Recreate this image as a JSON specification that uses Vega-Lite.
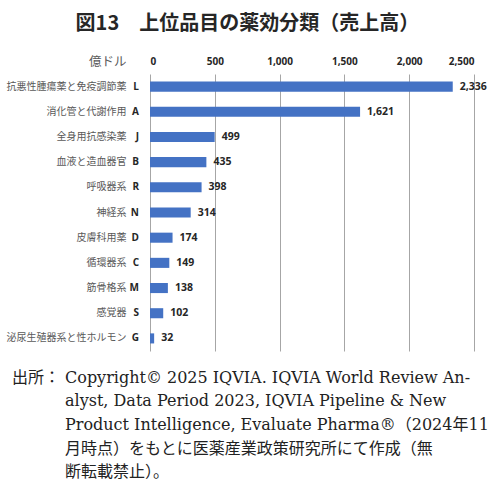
{
  "$schema": "https://vega.github.io/schema/vega-lite/v6.json",
  "background": "white",
  "padding": {"left": 6, "right": 4, "top": 14, "bottom": 4},
  "title": {
    "text": "図13　上位品目の薬効分類（売上高）",
    "font": "Noto Sans CJK JP",
    "fontSize": 20,
    "fontWeight": "bold",
    "color": "#262626",
    "anchor": "middle",
    "frame": "bounds",
    "offset": 21
  },
  "config": {
    "view": {"stroke": null},
    "font": "Noto Sans CJK JP"
  },
  "datasets": {
    "sales": [
      {"name": "抗悪性腫瘍薬と免疫調節薬", "code": "L", "value": 2336},
      {"name": "消化管と代謝作用", "code": "A", "value": 1621},
      {"name": "全身用抗感染薬", "code": "J", "value": 499},
      {"name": "血液と造血器官", "code": "B", "value": 435},
      {"name": "呼吸器系", "code": "R", "value": 398},
      {"name": "神経系", "code": "N", "value": 314},
      {"name": "皮膚科用薬", "code": "D", "value": 174},
      {"name": "循環器系", "code": "C", "value": 149},
      {"name": "筋骨格系", "code": "M", "value": 138},
      {"name": "感覚器", "code": "S", "value": 102},
      {"name": "泌尿生殖器系と性ホルモン", "code": "G", "value": 32}
    ],
    "source": [
      {"line": 1, "part": "head", "text": "出所："},
      {"line": 1, "part": "body", "text": "Copyright© 2025 IQVIA. IQVIA World Review An-"},
      {"line": 2, "part": "body", "text": "alyst, Data Period 2023, IQVIA Pipeline & New"},
      {"line": 3, "part": "body", "text": "Product Intelligence, Evaluate Pharma®（2024年11"},
      {"line": 4, "part": "body", "text": "月時点）をもとに医薬産業政策研究所にて作成（無"},
      {"line": 5, "part": "body", "text": "断転載禁止）。"}
    ]
  },
  "spacing": 15,
  "vconcat": [
    {
      "width": 324,
      "height": 277,
      "data": {"name": "sales"},
      "encoding": {
        "y": {
          "field": "name",
          "type": "nominal",
          "sort": null,
          "scale": {"paddingInner": 0.6, "paddingOuter": 0.3},
          "axis": {
            "title": null,
            "ticks": false,
            "domain": false,
            "labelPadding": 24,
            "labelFontSize": 10,
            "labelColor": "#595959",
            "labelFont": "Noto Sans CJK JP"
          }
        },
        "x": {
          "field": "value",
          "type": "quantitative",
          "scale": {"domain": [0, 2500], "nice": false},
          "axis": {
            "orient": "top",
            "values": [0, 500, 1000, 1500, 2000, 2500],
            "format": ",d",
            "ticks": false,
            "domain": false,
            "labelPadding": 8,
            "labelFontSize": 10,
            "labelFontWeight": "bold",
            "labelFont": "Open Sans",
            "labelColor": "#262626",
            "gridColor": "#a6a6a6",
            "gridWidth": 1,
            "title": "億ドル",
            "titleFont": "Noto Sans CJK JP",
            "titleFontSize": 12.5,
            "titleFontWeight": "normal",
            "titleColor": "#595959",
            "titleAnchor": "start",
            "titleAlign": "right",
            "titleBaseline": "middle",
            "titleX": -24,
            "titleY": -13
          }
        }
      },
      "layer": [
        {
          "mark": {"type": "bar", "color": "#4472c4"}
        },
        {
          "mark": {
            "type": "text",
            "align": "left",
            "baseline": "middle",
            "dx": 7,
            "font": "Open Sans",
            "fontSize": 10.5,
            "fontWeight": "bold",
            "color": "#262626"
          },
          "encoding": {"text": {"field": "value", "type": "quantitative", "format": ",d"}}
        },
        {
          "mark": {
            "type": "text",
            "align": "right",
            "baseline": "middle",
            "dx": -11,
            "font": "Open Sans",
            "fontSize": 10,
            "fontWeight": "bold",
            "color": "#262626"
          },
          "encoding": {
            "x": {"datum": 0, "type": "quantitative"},
            "text": {"field": "code"}
          }
        }
      ]
    },
    {
      "width": 324,
      "height": 118,
      "data": {"name": "source"},
      "mark": {
        "type": "text",
        "align": "left",
        "baseline": "middle",
        "font": "DejaVu Serif, Noto Sans CJK JP",
        "fontSize": 16,
        "color": "#222222"
      },
      "encoding": {
        "y": {
          "field": "line",
          "type": "ordinal",
          "scale": {"type": "point", "padding": 0.5},
          "axis": null
        },
        "x": {
          "field": "part",
          "type": "nominal",
          "scale": {"type": "point", "domain": ["head", "body"], "range": [-138, -85], "padding": 0},
          "axis": null
        },
        "text": {"field": "text"}
      }
    }
  ]
}
